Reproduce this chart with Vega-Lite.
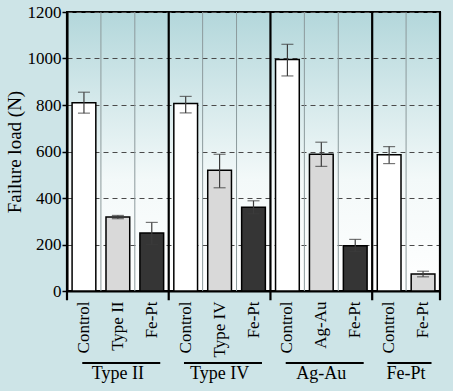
{
  "$schema": "https://vega.github.io/schema/vega-lite/v6.json",
  "width": 373,
  "height": 279,
  "autosize": {"type": "none"},
  "padding": {"left": 67, "top": 12, "right": 13, "bottom": 100},
  "background": "#cde4e7",
  "config": {
    "view": {"stroke": "#000000", "strokeWidth": 2,
      "fill": {"gradient": "linear", "x1": 0, "y1": 0, "x2": 0, "y2": 1,
        "stops": [{"offset": 0, "color": "#b3d7db"}, {"offset": 0.6, "color": "#f3f9f9"}, {"offset": 1, "color": "#ffffff"}]}},
    "font": "Liberation Serif",
    "numberFormat": "d",
    "axis": {"labelFont": "Liberation Serif", "titleFont": "Liberation Serif", "labelColor": "#000000", "titleColor": "#000000",
      "domainColor": "#000000", "domainWidth": 2, "titleFontWeight": "normal"},
    "axisX": {"ticks": false, "grid": false, "labelExpr": "split(datum.label, '|')[1]", "labelAngle": -90, "labelAlign": "right",
      "labelBaseline": "middle", "labelPadding": 10, "labelFontSize": 17},
    "axisY": {"titleFontSize": 19, "titlePadding": 3, "labelFontSize": 17, "tickColor": "#000000", "tickSize": 5, "tickWidth": 1.5,
      "labelPadding": 1, "grid": true, "gridDash": [5, 4], "gridColor": "#4a4a4a", "gridWidth": 1, "tickCount": 6}
  },
  "data": {"values": [
    {"key": "Type II|Control", "group": "Type II", "sub": "Control", "kind": "white", "mean": 810, "lo": 765, "hi": 855},
    {"key": "Type II|Type II", "group": "Type II", "sub": "Type II", "kind": "dotted", "mean": 318, "lo": 311, "hi": 325},
    {"key": "Type II|Fe-Pt", "group": "Type II", "sub": "Fe-Pt", "kind": "dark", "mean": 250, "lo": 201, "hi": 295},
    {"key": "Type IV|Control", "group": "Type IV", "sub": "Control", "kind": "white", "mean": 806, "lo": 766, "hi": 837},
    {"key": "Type IV|Type IV", "group": "Type IV", "sub": "Type IV", "kind": "dotted", "mean": 519, "lo": 444, "hi": 588},
    {"key": "Type IV|Fe-Pt", "group": "Type IV", "sub": "Fe-Pt", "kind": "dark", "mean": 360, "lo": 332, "hi": 388},
    {"key": "Ag-Au|Control", "group": "Ag-Au", "sub": "Control", "kind": "white", "mean": 996, "lo": 925, "hi": 1061},
    {"key": "Ag-Au|Ag-Au", "group": "Ag-Au", "sub": "Ag-Au", "kind": "dotted", "mean": 588, "lo": 536, "hi": 640},
    {"key": "Ag-Au|Fe-Pt", "group": "Ag-Au", "sub": "Fe-Pt", "kind": "dark", "mean": 195, "lo": 170, "hi": 222},
    {"key": "Fe-Pt|Control", "group": "Fe-Pt", "sub": "Control", "kind": "white", "mean": 586, "lo": 548, "hi": 621},
    {"key": "Fe-Pt|Fe-Pt", "group": "Fe-Pt", "sub": "Fe-Pt", "kind": "dotted", "mean": 73, "lo": 61, "hi": 85}
  ]},
  "layer": [
    {
      "mark": {"type": "bar", "width": {"band": 0.7}, "stroke": "#000000", "strokeWidth": 1.5},
      "encoding": {
        "x": {"field": "key", "type": "nominal", "sort": null, "title": null,
          "scale": {"paddingInner": 0, "paddingOuter": 0,
            "domain": ["Type II|Control", "Type II|Type II", "Type II|Fe-Pt", "Type IV|Control", "Type IV|Type IV", "Type IV|Fe-Pt", "Ag-Au|Control", "Ag-Au|Ag-Au", "Ag-Au|Fe-Pt", "Fe-Pt|Control", "Fe-Pt|Fe-Pt"]}},
        "y": {"field": "mean", "type": "quantitative", "title": "Failure load (N)",
          "scale": {"domain": [0, 1200], "nice": false}},
        "fill": {"field": "kind", "type": "nominal", "legend": null,
          "scale": {"domain": ["white", "dotted", "dark"], "range": ["#ffffff", "#d9d9d9", "#353535"]}}
      }
    },
    {
      "transform": [{"filter": "datum.sub != 'Control'"}],
      "mark": {"type": "rule", "color": "#8c9a9c", "strokeWidth": 1},
      "encoding": {
        "x": {"field": "key", "type": "nominal", "sort": null, "bandPosition": 0, "title": null},
        "y": {"datum": 0, "type": "quantitative", "title": "Failure load (N)"},
        "y2": {"datum": 1200}
      }
    },
    {
      "mark": {"type": "rule", "color": "#3c3c3c", "strokeWidth": 1.2},
      "encoding": {
        "x": {"field": "key", "type": "nominal", "sort": null, "title": null},
        "y": {"field": "lo", "type": "quantitative", "title": "Failure load (N)"},
        "y2": {"field": "hi"}
      }
    },
    {
      "mark": {"type": "tick", "orient": "horizontal", "color": "#3c3c3c", "size": 12, "thickness": 1.2},
      "encoding": {
        "x": {"field": "key", "type": "nominal", "sort": null, "title": null},
        "y": {"field": "hi", "type": "quantitative", "title": "Failure load (N)"}
      }
    },
    {
      "mark": {"type": "tick", "orient": "horizontal", "color": "#3c3c3c", "size": 12, "thickness": 1.2},
      "encoding": {
        "x": {"field": "key", "type": "nominal", "sort": null, "title": null},
        "y": {"field": "lo", "type": "quantitative", "title": "Failure load (N)"}
      }
    },
    {
      "transform": [{"filter": "datum.sub == 'Control'"}],
      "mark": {"type": "rule", "color": "#000000", "strokeWidth": 2.2, "clip": false},
      "encoding": {
        "x": {"field": "key", "type": "nominal", "sort": null, "bandPosition": 0, "title": null},
        "y": {"datum": -40, "type": "quantitative", "title": "Failure load (N)"},
        "y2": {"datum": 1200}
      }
    },
    {
      "transform": [{"filter": "datum.sub == 'Fe-Pt' && datum.group == 'Fe-Pt'"}],
      "mark": {"type": "rule", "color": "#000000", "strokeWidth": 2.2, "clip": false},
      "encoding": {
        "x": {"field": "key", "type": "nominal", "sort": null, "bandPosition": 1, "title": null},
        "y": {"datum": -40, "type": "quantitative", "title": "Failure load (N)"},
        "y2": {"datum": 1200}
      }
    },
    {
      "transform": [
        {"window": [{"op": "last_value", "field": "key", "as": "last"}], "groupby": ["group"], "frame": [null, null]},
        {"filter": "datum.sub == 'Control'"}
      ],
      "mark": {"type": "rule", "color": "#000000", "strokeWidth": 2, "clip": false},
      "encoding": {
        "x": {"field": "key", "type": "nominal", "sort": null, "bandPosition": 0.45, "title": null},
        "x2": {"field": "last", "bandPosition": 0.75},
        "y": {"datum": -310, "type": "quantitative", "title": "Failure load (N)"}
      }
    },
    {
      "transform": [{"filter": "datum.sub == datum.group && datum.group != 'Fe-Pt'"}],
      "mark": {"type": "text", "fontSize": 18, "color": "#000000", "baseline": "middle", "font": "Liberation Serif", "clip": false},
      "encoding": {
        "x": {"field": "key", "type": "nominal", "sort": null, "title": null},
        "y": {"datum": -355, "type": "quantitative", "title": "Failure load (N)"},
        "text": {"field": "group"}
      }
    },
    {
      "transform": [{"filter": "datum.sub == 'Fe-Pt' && datum.group == 'Fe-Pt'"}],
      "mark": {"type": "text", "fontSize": 18, "color": "#000000", "baseline": "middle", "font": "Liberation Serif", "clip": false},
      "encoding": {
        "x": {"field": "key", "type": "nominal", "sort": null, "bandPosition": 0, "title": null},
        "y": {"datum": -355, "type": "quantitative", "title": "Failure load (N)"},
        "text": {"field": "group"}
      }
    }
  ]
}
